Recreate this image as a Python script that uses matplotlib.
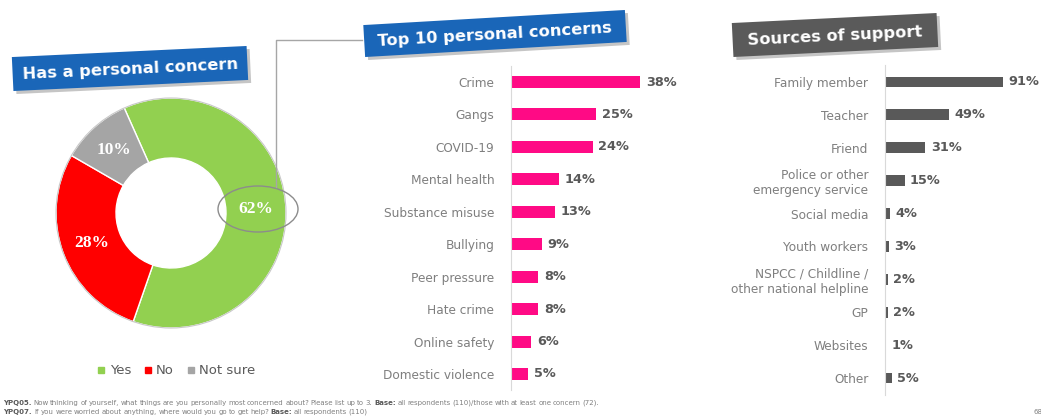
import matplotlib
matplotlib.use('Agg')
import matplotlib.pyplot as plt
from matplotlib.patches import Rectangle, Ellipse, Circle
from matplotlib.lines import Line2D
from matplotlib.transforms import Affine2D

matplotlib.rcParams['font.family'] = 'DejaVu Sans'

# ---------------- data ----------------
status_labels = ['Yes', 'No', 'Not sure']
status_values = [62, 28, 10]
status_colors = ['#92D050', '#FF0000', '#A5A5A5']

concern_labels = ['Crime', 'Gangs', 'COVID-19', 'Mental health', 'Substance misuse',
                  'Bullying', 'Peer pressure', 'Hate crime', 'Online safety',
                  'Domestic violence']
concern_values = [38, 25, 24, 14, 13, 9, 8, 8, 6, 5]

support_labels = ['Family member', 'Teacher', 'Friend',
                  'Police or other\nemergency service', 'Social media',
                  'Youth workers', 'NSPCC / Childline /\nother national helpline',
                  'GP', 'Websites', 'Other']
support_values = [91, 49, 31, 15, 4, 3, 2, 2, 1, 5]

W, H = 1041, 419
fig = plt.figure(figsize=(W / 100, H / 100), dpi=100)
fig.patch.set_facecolor('white')

# pixel coords (y down) -> figure
T = Affine2D().scale(1 / W, -1 / H).translate(0, 1) + fig.transFigure


def px_axes(left, top, right, bottom):
    return fig.add_axes([left / W, 1 - bottom / H, (right - left) / W, (bottom - top) / H])


def title_box(cx, cy, w, h, angle, text, fc):
    shadow = Rectangle((cx - w / 2 + 3, cy - h / 2 + 3), w, h, angle=-angle,
                       rotation_point='center', transform=T, fc='#808080',
                       alpha=0.45, ec='none')
    box = Rectangle((cx - w / 2, cy - h / 2), w, h, angle=-angle,
                    rotation_point='center', transform=T, fc=fc, ec='none')
    fig.add_artist(shadow)
    fig.add_artist(box)
    fig.text(cx, cy + 1, text, transform=T, rotation=angle, rotation_mode='anchor',
             ha='center', va='center', color='white', fontsize=11.7,
             fontweight='bold')


# ---------------- donut ----------------
ax0 = px_axes(41, 83, 301, 343)
wedges, _, autotexts = ax0.pie(
    status_values, colors=status_colors, startangle=114, counterclock=False,
    radius=1.15, wedgeprops=dict(width=0.6, edgecolor='white', linewidth=1),
    autopct=lambda p: f'{p:.0f}%', pctdistance=0.85 / 1.15,
    textprops=dict(color='white', fontsize=12.5, fontweight='bold',
                   family='Liberation Serif'))
ax0.add_patch(Circle((0, 0), 1.15, fill=False, ec='#C8C8C8', lw=0.8))
ax0.add_patch(Ellipse((0.87, 0.04), 0.80, 0.46, fill=False, ec='#8C8C8C',
                      lw=1, clip_on=False))
ax0.set_xlim(-1.3, 1.3)
ax0.set_ylim(-1.3, 1.3)
ax0.set_aspect('equal')
ax0.axis('off')

handles = [Line2D([], [], marker='s', ls='none', color=c, markersize=5)
           for c in status_colors]
fig.legend(handles, status_labels, loc='center', bbox_to_anchor=(176 / W, 1 - 371 / H),
           ncol=3, frameon=False, fontsize=9.5, handletextpad=0.3,
           columnspacing=0.9, handlelength=0.7, labelcolor='#595959')

# connector from the 62% ellipse to the concerns panel
fig.add_artist(Line2D([276, 276, 362], [187, 40, 40], transform=T,
                      color='#A6A6A6', lw=1))

title_box(130, 68.5, 235, 34, 2.7, 'Has a personal concern', '#1A66B8')
title_box(495, 33.5, 262, 32, 3.3, 'Top 10 personal concerns', '#1A66B8')
title_box(835, 35, 205, 34, 2.8, 'Sources of support', '#5A5A5A')


# ---------------- bar panels ----------------
def bar_panel(ax, labels, values, color, height, xmax):
    n = len(values)
    ax.barh(range(n), values, height=height, color=color)
    ax.set_yticks(range(n))
    ax.set_yticklabels(labels)
    ax.set_ylim(n - 0.5, -0.5)
    ax.set_xlim(0, xmax)
    ax.set_xticks([])
    for s in ['top', 'right', 'bottom']:
        ax.spines[s].set_visible(False)
    ax.spines['left'].set_color('#D9D9D9')
    ax.tick_params(axis='y', length=0, pad=12, labelsize=8.7, labelcolor='#7F7F7F')
    for i, v in enumerate(values):
        ax.annotate(f'{v}%', (v, i), xytext=(4, 0), textcoords='offset points',
                    va='center', ha='left', fontsize=9.3, fontweight='bold',
                    color='#595959', annotation_clip=False)


ax1 = px_axes(511, 65.8, 700, 390.2)
bar_panel(ax1, concern_labels, concern_values, '#FF0A85', 0.37, 189 / 3.4)

ax2 = px_axes(885, 65.5, 1041, 394.5)
bar_panel(ax2, support_labels, support_values, '#595959', 0.33, 156 / 1.3)

# ---------------- footnote ----------------
renderer = fig.canvas.get_renderer()


def footnote(y, segments):
    x = 3
    for s, bold in segments:
        for word in s.split(' '):
            if word == '':
                x += 1.5
                continue
            t = fig.text(x, y, word, transform=T, fontsize=5, va='center', ha='left',
                         fontweight='bold' if bold else 'normal',
                         color='#595959' if bold else '#808080')
            x += t.get_window_extent(renderer).width + 1.6


footnote(403, [('YPQ05.', True),
               ('Now thinking of yourself, what things are you personally most concerned '
                'about? Please list up to 3.', False),
               ('Base:', True),
               ('all respondents (110)/those with at least one concern (72).', False)])
footnote(412, [('YPQ07.', True),
               (' If you were worried about anything, where would you go to get help?', False),
               ('Base:', True),
               ('all respondents (110)', False)])
fig.text(1033, 412, '68', transform=T, fontsize=5, va='center', ha='left', color='#808080')

fig.savefig('out.png', dpi=100)
